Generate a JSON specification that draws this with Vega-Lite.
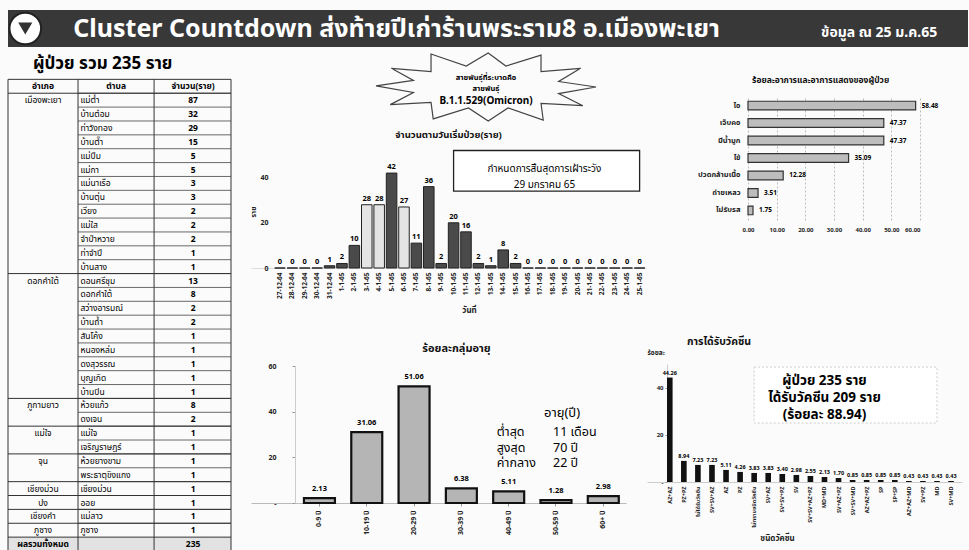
{
  "$schema": "https://vega.github.io/schema/vega-lite/v6.json",
  "background": "#fbfbfb",
  "padding": {"left": 5, "top": 8, "right": 4, "bottom": 0},
  "config": {
    "font": "'Noto Sans', 'Noto Sans Thai', sans-serif",
    "view": {"stroke": null},
    "axis": {"grid": false, "domainColor": "#999", "tickColor": "#999", "labelColor": "#222", "titleColor": "#222"},
    "title": {"color": "#111"}
  },
  "datasets": {
    "table": [
      {"r": 1, "district": "เมืองพะเยา", "sub": "แม่ต๋ำ", "n": 87},
      {"r": 2, "district": "เมืองพะเยา", "sub": "บ้านต๋อม", "n": 32},
      {"r": 3, "district": "เมืองพะเยา", "sub": "ท่าวังทอง", "n": 29},
      {"r": 4, "district": "เมืองพะเยา", "sub": "บ้านต๊ำ", "n": 15},
      {"r": 5, "district": "เมืองพะเยา", "sub": "แม่ปืม", "n": 5},
      {"r": 6, "district": "เมืองพะเยา", "sub": "แม่กา", "n": 5},
      {"r": 7, "district": "เมืองพะเยา", "sub": "แม่นาเรือ", "n": 3},
      {"r": 8, "district": "เมืองพะเยา", "sub": "บ้านตุ่น", "n": 3},
      {"r": 9, "district": "เมืองพะเยา", "sub": "เวียง", "n": 2},
      {"r": 10, "district": "เมืองพะเยา", "sub": "แม่ใส", "n": 2},
      {"r": 11, "district": "เมืองพะเยา", "sub": "จำป่าหวาย", "n": 2},
      {"r": 12, "district": "เมืองพะเยา", "sub": "ท่าจำปี", "n": 1},
      {"r": 13, "district": "เมืองพะเยา", "sub": "บ้านสาง", "n": 1},
      {"r": 14, "district": "ดอกคำใต้", "sub": "ดอนศรีชุม", "n": 13},
      {"r": 15, "district": "ดอกคำใต้", "sub": "ดอกคำใต้", "n": 8},
      {"r": 16, "district": "ดอกคำใต้", "sub": "สว่างอารมณ์", "n": 2},
      {"r": 17, "district": "ดอกคำใต้", "sub": "บ้านถ้ำ", "n": 2},
      {"r": 18, "district": "ดอกคำใต้", "sub": "สันโค้ง", "n": 1},
      {"r": 19, "district": "ดอกคำใต้", "sub": "หนองหล่ม", "n": 1},
      {"r": 20, "district": "ดอกคำใต้", "sub": "ดงสุวรรณ", "n": 1},
      {"r": 21, "district": "ดอกคำใต้", "sub": "บุญเกิด", "n": 1},
      {"r": 22, "district": "ดอกคำใต้", "sub": "บ้านปิน", "n": 1},
      {"r": 23, "district": "ภูกามยาว", "sub": "ห้วยแก้ว", "n": 8},
      {"r": 24, "district": "ภูกามยาว", "sub": "ดงเจน", "n": 2},
      {"r": 25, "district": "แม่ใจ", "sub": "แม่ใจ", "n": 1},
      {"r": 26, "district": "แม่ใจ", "sub": "เจริญราษฎร์", "n": 1},
      {"r": 27, "district": "จุน", "sub": "ห้วยยางขาม", "n": 1},
      {"r": 28, "district": "จุน", "sub": "พระธาตุขิงแกง", "n": 1},
      {"r": 29, "district": "เชียงม่วน", "sub": "เชียงม่วน", "n": 1},
      {"r": 30, "district": "ปง", "sub": "ออย", "n": 1},
      {"r": 31, "district": "เชียงคำ", "sub": "แม่ลาว", "n": 1},
      {"r": 32, "district": "ภูซาง", "sub": "ภูซาง", "n": 1}
    ],
    "onset": [
      {"date": "27-12-64", "cases": 0}, {"date": "28-12-64", "cases": 0}, {"date": "29-12-64", "cases": 0},
      {"date": "30-12-64", "cases": 0}, {"date": "31-12-64", "cases": 1}, {"date": "1-1-65", "cases": 2},
      {"date": "2-1-65", "cases": 10}, {"date": "3-1-65", "cases": 28}, {"date": "4-1-65", "cases": 28},
      {"date": "5-1-65", "cases": 42}, {"date": "6-1-65", "cases": 27}, {"date": "7-1-65", "cases": 11},
      {"date": "8-1-65", "cases": 36}, {"date": "9-1-65", "cases": 2}, {"date": "10-1-65", "cases": 20},
      {"date": "11-1-65", "cases": 16}, {"date": "12-1-65", "cases": 2}, {"date": "13-1-65", "cases": 1},
      {"date": "14-1-65", "cases": 8}, {"date": "15-1-65", "cases": 2}, {"date": "16-1-65", "cases": 0},
      {"date": "17-1-65", "cases": 0}, {"date": "18-1-65", "cases": 0}, {"date": "19-1-65", "cases": 0},
      {"date": "20-1-65", "cases": 0}, {"date": "21-1-65", "cases": 0}, {"date": "22-1-65", "cases": 0},
      {"date": "23-1-65", "cases": 0}, {"date": "24-1-65", "cases": 0}, {"date": "25-1-65", "cases": 0}
    ],
    "symptoms": [
      {"symptom": "ไอ", "pct": 58.48}, {"symptom": "เจ็บคอ", "pct": 47.37}, {"symptom": "มีน้ำมูก", "pct": 47.37},
      {"symptom": "ไข้", "pct": 35.09}, {"symptom": "ปวดกล้ามเนื้อ", "pct": 12.28}, {"symptom": "ถ่ายเหลว", "pct": 3.51},
      {"symptom": "ไม่รับรส", "pct": 1.75}
    ],
    "age": [
      {"group": "0-9 ปี", "pct": 2.13}, {"group": "10-19 ปี", "pct": 31.06}, {"group": "20-29 ปี", "pct": 51.06},
      {"group": "30-39 ปี", "pct": 6.38}, {"group": "40-49 ปี", "pct": 5.11}, {"group": "50-59 ปี", "pct": 1.28},
      {"group": "60+ ปี", "pct": 2.98}
    ],
    "vaccine": [
      {"type": "AZ+AZ", "pct": 44.26}, {"type": "PZ+PZ", "pct": 8.94}, {"type": "ไม่ได้รับวัคซีน", "pct": 7.23},
      {"type": "SV+SV+AZ", "pct": 7.23}, {"type": "AZ", "pct": 5.11}, {"type": "PZ", "pct": 4.26},
      {"type": "ไม่ทราบชนิดวัคซีน", "pct": 3.83}, {"type": "SV+AZ", "pct": 3.83}, {"type": "SV+SV+PZ", "pct": 3.40},
      {"type": "SV", "pct": 2.98}, {"type": "SV+SV+AZ+PZ", "pct": 2.55}, {"type": "MD+MD", "pct": 2.13},
      {"type": "SV+AZ+PZ", "pct": 1.70}, {"type": "SV+SV+MD", "pct": 0.85}, {"type": "AZ+AZ+PZ", "pct": 0.85},
      {"type": "SP", "pct": 0.85}, {"type": "SP+SP", "pct": 0.85}, {"type": "AZ+AZ+MD", "pct": 0.43},
      {"type": "SV+PZ", "pct": 0.43}, {"type": "MD", "pct": 0.43}, {"type": "SV+MD", "pct": 0.43}
    ]
  },
  "align": "none",
  "spacing": 1,
  "vconcat": [
    {
      "width": 960, "height": 37,
      "view": {"fill": "#383838", "stroke": null},
      "data": {"values": [{}]},
      "layer": [
        {"mark": {"type": "point", "shape": "circle", "filled": true, "fill": "white", "size": 1000, "stroke": "#222", "strokeWidth": 2, "opacity": 1},
         "encoding": {"x": {"datum": 0.018, "type": "quantitative", "scale": {"domain": [0, 1]}, "axis": null}}},
        {"mark": {"type": "point", "shape": "triangle-down", "filled": true, "fill": "#333", "size": 200, "opacity": 1},
         "encoding": {"x": {"datum": 0.018, "type": "quantitative", "axis": null}}},
        {"mark": {"type": "text", "align": "left", "baseline": "middle", "fontSize": 25, "fontWeight": "bold", "fill": "white", "text": "Cluster Countdown ส่งท้ายปีเก่าร้านพระราม8 อ.เมืองพะเยา"},
         "encoding": {"x": {"datum": 0.068, "type": "quantitative", "axis": null}}},
        {"mark": {"type": "text", "align": "left", "baseline": "middle", "dy": 4, "fontSize": 14, "fontWeight": "bold", "fill": "white", "text": "ข้อมูล ณ 25 ม.ค.65"},
         "encoding": {"x": {"datum": 0.847, "type": "quantitative", "axis": null}}}
      ]
    },
    {
      "align": "none",
      "spacing": 17,
      "hconcat": [
        {
          "width": 223, "height": 498,
          "data": {"name": "table"},
          "layer": [
            {"data": {"values": [{}]}, "mark": {"type": "text", "text": "ผู้ป่วย รวม 235 ราย", "align": "left", "baseline": "middle", "fontSize": 17, "fontWeight": "bold"},
             "encoding": {"x": {"datum": 0.112, "type": "quantitative", "scale": {"domain": [0, 1], "nice": false}, "axis": null},
                          "y": {"datum": -1.1, "type": "quantitative", "scale": {"domain": [-1.9, 34], "reverse": true, "nice": false, "zero": false}, "axis": null}}},
            {"data": {"values": [{}]}, "mark": {"type": "rect", "fill": "#e2e2e2"},
             "encoding": {"x": {"datum": 0, "type": "quantitative", "axis": null}, "x2": {"datum": 1},
                          "y": {"datum": 33, "type": "quantitative", "axis": null}, "y2": {"datum": 34}}},
            {"data": {"values": [{}]}, "mark": {"type": "rect", "fill": null, "stroke": "#333", "strokeWidth": 1},
             "encoding": {"x": {"datum": 0, "type": "quantitative", "axis": null}, "x2": {"datum": 1},
                          "y": {"datum": 0, "type": "quantitative", "axis": null}, "y2": {"datum": 34}}},
            {"data": {"values": [{}]}, "mark": {"type": "rule", "stroke": "#333", "strokeWidth": 1},
             "encoding": {"x": {"datum": 0.314, "type": "quantitative", "axis": null},
                          "y": {"datum": 0, "type": "quantitative", "axis": null}, "y2": {"datum": 34}}},
            {"data": {"values": [{}]}, "mark": {"type": "rule", "stroke": "#333", "strokeWidth": 1},
             "encoding": {"x": {"datum": 0.655, "type": "quantitative", "axis": null},
                          "y": {"datum": 0, "type": "quantitative", "axis": null}, "y2": {"datum": 34}}},
            {"data": {"values": [{}]}, "mark": {"type": "rule", "stroke": "#333", "strokeWidth": 1},
             "encoding": {"x": {"datum": 0, "type": "quantitative", "axis": null}, "x2": {"datum": 1},
                          "y": {"datum": 33, "type": "quantitative", "axis": null}}},
            {"mark": {"type": "rule", "stroke": "#444", "strokeWidth": 0.8},
             "encoding": {"x": {"datum": 0.314, "type": "quantitative", "axis": null}, "x2": {"datum": 1},
                          "y": {"field": "r", "type": "quantitative", "axis": null}}},
            {"transform": [{"aggregate": [{"op": "min", "field": "r", "as": "start"}], "groupby": ["district"]}],
             "mark": {"type": "rule", "stroke": "#333", "strokeWidth": 1},
             "encoding": {"x": {"datum": 0, "type": "quantitative", "axis": null}, "x2": {"datum": 1},
                          "y": {"field": "start", "type": "quantitative", "axis": null}}},
            {"transform": [{"aggregate": [{"op": "min", "field": "r", "as": "start"}], "groupby": ["district"]}],
             "mark": {"type": "text", "baseline": "middle", "dy": 7, "fontSize": 8.5, "align": "center"},
             "encoding": {"x": {"datum": 0.157, "type": "quantitative", "axis": null},
                          "y": {"field": "start", "type": "quantitative", "axis": null}, "text": {"field": "district"}}},
            {"mark": {"type": "text", "baseline": "middle", "dy": 7, "fontSize": 8.5, "align": "left"},
             "encoding": {"x": {"datum": 0.325, "type": "quantitative", "axis": null},
                          "y": {"field": "r", "type": "quantitative", "axis": null}, "text": {"field": "sub"}}},
            {"mark": {"type": "text", "baseline": "middle", "dy": 7, "fontSize": 8.5, "fontWeight": "bold", "align": "center"},
             "encoding": {"x": {"datum": 0.83, "type": "quantitative", "axis": null},
                          "y": {"field": "r", "type": "quantitative", "axis": null}, "text": {"field": "n"}}},
            {"data": {"values": [{}]}, "mark": {"type": "text", "baseline": "middle", "dy": 7, "fontSize": 8.5, "fontWeight": "bold", "text": "อำเภอ"},
             "encoding": {"x": {"datum": 0.157, "type": "quantitative", "axis": null}, "y": {"datum": 0, "type": "quantitative", "axis": null}}},
            {"data": {"values": [{}]}, "mark": {"type": "text", "baseline": "middle", "dy": 7, "fontSize": 8.5, "fontWeight": "bold", "text": "ตำบล"},
             "encoding": {"x": {"datum": 0.485, "type": "quantitative", "axis": null}, "y": {"datum": 0, "type": "quantitative", "axis": null}}},
            {"data": {"values": [{}]}, "mark": {"type": "text", "baseline": "middle", "dy": 7, "fontSize": 8.5, "fontWeight": "bold", "text": "จำนวน(ราย)"},
             "encoding": {"x": {"datum": 0.83, "type": "quantitative", "axis": null}, "y": {"datum": 0, "type": "quantitative", "axis": null}}},
            {"data": {"values": [{}]}, "mark": {"type": "text", "baseline": "middle", "dy": 7, "fontSize": 8.5, "fontWeight": "bold", "text": "ผลรวมทั้งหมด"},
             "encoding": {"x": {"datum": 0.157, "type": "quantitative", "axis": null}, "y": {"datum": 33, "type": "quantitative", "axis": null}}},
            {"data": {"values": [{}]}, "mark": {"type": "text", "baseline": "middle", "dy": 7, "fontSize": 8.5, "fontWeight": "bold", "text": "235"},
             "encoding": {"x": {"datum": 0.83, "type": "quantitative", "axis": null}, "y": {"datum": 33, "type": "quantitative", "axis": null}}}
          ]
        },
        {
          "align": "none",
          "spacing": 0,
          "hconcat": [
            {
              "align": "none",
              "spacing": 28,
              "vconcat": [
                {
                  "align": "none",
                  "spacing": 6,
                  "vconcat": [
                    {
                      "width": 395, "height": 68,
                      "data": {"values": [{}]},
                      "layer": [
                        {"mark": {"type": "point", "shape": "M1,0L0.66,0.06L0.88,0.17L0.5,0.15L0.52,0.3L0.2,0.19L0.02,0.31L-0.16,0.19L-0.48,0.29L-0.5,0.14L-0.87,0.16L-0.66,0.05L-1,-0.01L-0.66,-0.06L-0.86,-0.17L-0.5,-0.14L-0.5,-0.3L-0.18,-0.19L0.02,-0.31L0.18,-0.19L0.5,-0.29L0.5,-0.14L0.86,-0.17L0.66,-0.05Z", "size": 48400, "filled": false, "stroke": "#444", "strokeWidth": 1.2, "opacity": 1},
                         "encoding": {"x": {"datum": 0.595, "type": "quantitative", "scale": {"domain": [0, 1]}, "axis": null},
                                      "y": {"datum": 0.5, "type": "quantitative", "scale": {"domain": [0, 1]}, "axis": null}}},
                        {"mark": {"type": "text", "text": ["สายพันธุ์ที่ระบาดคือ", "สายพันธุ์"], "fontSize": 7.5, "fontWeight": "bold", "lineHeight": 11, "baseline": "middle"},
                         "encoding": {"x": {"datum": 0.595, "type": "quantitative", "axis": null}, "y": {"datum": 0.63, "type": "quantitative", "axis": null}}},
                        {"mark": {"type": "text", "text": "B.1.1.529(Omicron)", "fontSize": 10, "fontWeight": "bold", "baseline": "middle"},
                         "encoding": {"x": {"datum": 0.595, "type": "quantitative", "axis": null}, "y": {"datum": 0.29, "type": "quantitative", "axis": null}}}
                      ]
                    },
                    {
                      "width": 395, "height": 113,
                      "title": {"text": "จำนวนตามวันเริ่มป่วย(ราย)", "fontSize": 9.5, "fontWeight": "bold", "offset": 10},
                      "data": {"name": "onset"},
                      "layer": [
                        {"mark": {"type": "bar", "stroke": "#222", "strokeWidth": 1},
                         "encoding": {
                           "x": {"field": "date", "type": "ordinal", "sort": null, "scale": {"paddingInner": 0.15, "paddingOuter": 1.67, "align": 0.955},
                                 "axis": {"title": "วันที่", "labelAngle": -90, "labelFontSize": 6.5, "labelFontWeight": "bold", "ticks": false, "domainColor": "#ddd", "labelPadding": 4, "titleFontSize": 8, "titleFontWeight": "bold", "titlePadding": 8, "titleX": 218}},
                           "y": {"field": "cases", "type": "quantitative", "scale": {"domain": [0, 50]},
                                 "axis": {"title": "ราย", "offset": -25, "values": [0, 10, 20, 30, 40, 50], "domain": false, "ticks": false, "labelFontSize": 7, "labelFontWeight": "bold", "labelPadding": 8, "titleFontSize": 7, "titleFontWeight": "bold", "titlePadding": 3}},
                           "fill": {"condition": {"test": "indexof(['3-1-65','4-1-65','6-1-65'], datum.date) >= 0", "value": "#e4e4e4"}, "value": "#4a4a4a"}
                         }},
                        {"mark": {"type": "text", "dy": -6, "fontSize": 7.5, "fontWeight": "bold"},
                         "encoding": {"x": {"field": "date", "type": "ordinal", "sort": null}, "y": {"field": "cases", "type": "quantitative"}, "text": {"field": "cases"}}},
                        {"data": {"values": [{}]}, "mark": {"type": "rect", "fill": "white", "stroke": "#222", "strokeWidth": 1.3},
                         "encoding": {"x": {"datum": "10-1-65", "type": "ordinal"}, "x2": {"datum": "25-1-65"},
                                      "y": {"datum": 52, "type": "quantitative"}, "y2": {"datum": 34}}},
                        {"data": {"values": [{}]}, "mark": {"type": "text", "text": ["กำหนดการสิ้นสุดการเฝ้าระวัง", "29 มกราคม 65"], "fontSize": 10, "lineHeight": 16, "baseline": "top", "dx": 4},
                         "encoding": {"x": {"datum": "17-1-65", "type": "ordinal"}, "y": {"datum": 46, "type": "quantitative"}}}
                      ]
                    }
                  ]
                },
                {
                  "width": 375, "height": 137,
                  "title": {"text": "ร้อยละกลุ่มอายุ", "fontSize": 11, "fontWeight": "bold", "offset": 8, "dx": 18},
                  "data": {"name": "age"},
                  "layer": [
                    {"mark": {"type": "bar", "fill": "#b5b5b5", "stroke": "#111", "strokeWidth": 2.2},
                     "encoding": {
                       "x": {"field": "group", "type": "ordinal", "sort": null, "scale": {"paddingInner": 0.345, "paddingOuter": 0.636, "align": 0.88},
                             "axis": {"title": null, "labelAngle": -90, "labelFontSize": 7, "labelFontWeight": "bold", "tickSize": 3, "domainColor": "#bbb", "labelPadding": 4}},
                       "y": {"field": "pct", "type": "quantitative", "scale": {"domain": [0, 60]},
                             "axis": {"title": null, "offset": -44, "values": [0, 10, 20, 30, 40, 50, 60], "labelExpr": "datum.value == 0 ? '-' : datum.label", "domainColor": "#ccc", "tickSize": 3, "labelPadding": 16, "labelFontSize": 7, "labelFontWeight": "bold"}}
                     }},
                    {"mark": {"type": "text", "dy": -9, "fontSize": 7.5, "fontWeight": "bold"},
                     "encoding": {"x": {"field": "group", "type": "ordinal", "sort": null}, "y": {"field": "pct", "type": "quantitative"}, "text": {"field": "pct", "format": ".2f"}}},
                    {"data": {"values": [{}]}, "mark": {"type": "text", "text": "อายุ(ปี)", "fontSize": 13, "baseline": "middle", "dx": 6},
                     "encoding": {"x": {"datum": "50-59 ปี", "type": "ordinal"}, "y": {"datum": 39.4, "type": "quantitative"}}},
                    {"data": {"values": [{}]}, "mark": {"type": "text", "text": ["ต่ำสุด", "สูงสุด", "ค่ากลาง"], "fontSize": 12.5, "lineHeight": 15.5, "baseline": "top", "align": "left", "dx": -12},
                     "encoding": {"x": {"datum": "40-49 ปี", "type": "ordinal"}, "y": {"datum": 33.7, "type": "quantitative"}}},
                    {"data": {"values": [{}]}, "mark": {"type": "text", "text": ["11 เดือน", "70 ปี", "22 ปี"], "fontSize": 12.5, "lineHeight": 15.5, "baseline": "top", "align": "left", "dx": -3},
                     "encoding": {"x": {"datum": "50-59 ปี", "type": "ordinal"}, "y": {"datum": 33.7, "type": "quantitative"}}}
                  ]
                }
              ]
            },
            {
              "align": "none",
              "spacing": 104,
              "vconcat": [
                {
                  "align": "none",
                  "spacing": 0,
                  "vconcat": [
                    {"width": 10, "height": 22, "data": {"values": [{}]}, "mark": {"type": "rule", "opacity": 0}, "encoding": {}},
                    {
                      "width": 273, "height": 124,
                      "title": {"text": "ร้อยละอาการและอาการแสดงของผู้ป่วย", "fontSize": 8.5, "fontWeight": "bold", "anchor": "start", "offset": 12, "dx": 105},
                      "data": {"name": "symptoms"},
                      "layer": [
                        {"mark": {"type": "bar", "fill": "#bdbdbd", "stroke": "#333", "strokeWidth": 1.2},
                         "encoding": {
                           "y": {"field": "symptom", "type": "nominal", "sort": null, "scale": {"paddingInner": 0.5, "paddingOuter": 0.3},
                                 "axis": {"title": null, "offset": -101, "ticks": false, "domain": false, "labelFontSize": 7.5, "labelFontWeight": "bold", "labelPadding": 8}},
                           "x": {"field": "pct", "type": "quantitative", "scale": {"domain": [-35.23, 60], "nice": false, "zero": false},
                                 "axis": {"title": null, "values": [0, 10, 20, 30, 40, 50, 60], "format": ".2f", "grid": true, "gridDash": [2, 2], "gridColor": "#bbb", "domain": false, "ticks": false, "labelFontSize": 6, "labelFontWeight": "bold", "labelPadding": 6}}
                         }},
                        {"mark": {"type": "text", "align": "left", "dx": 6, "fontSize": 6.5, "fontWeight": "bold"},
                         "encoding": {"y": {"field": "symptom", "type": "nominal", "sort": null}, "x": {"field": "pct", "type": "quantitative"}, "text": {"field": "pct", "format": ".2f"}}}
                      ]
                    }
                  ]
                },
                {
                  "width": 315, "height": 118,
                  "title": {"text": "การได้รับวัคซีน", "fontSize": 10.5, "fontWeight": "bold", "anchor": "start", "offset": 2, "dx": 40},
                  "data": {"name": "vaccine"},
                  "layer": [
                    {"mark": {"type": "bar", "fill": "#111"},
                     "encoding": {
                       "x": {"field": "type", "type": "ordinal", "sort": null, "scale": {"paddingInner": 0.6, "paddingOuter": 1.38, "align": 0.71},
                             "axis": {"title": "ชนิดวัคซีน", "titleY": 52, "titleX": 130, "titleFontSize": 8, "titleFontWeight": "bold", "labelAngle": -90, "labelFontSize": 5.5, "labelFontWeight": "bold", "ticks": false, "domainColor": "#ccc", "labelPadding": 4}},
                       "y": {"field": "pct", "type": "quantitative", "scale": {"domain": [0, 50]},
                             "axis": {"title": "ร้อยละ", "offset": -20, "titleAngle": 0, "titleAlign": "left", "titleX": -20, "titleY": -9, "titleFontSize": 6.5, "titleFontWeight": "bold", "values": [0, 5, 10, 15, 20, 25, 30, 35, 40, 45, 50], "labelExpr": "datum.value == 0 ? '-' : datum.label", "domainColor": "#ccc", "tickSize": 2, "labelFontSize": 6, "labelFontWeight": "bold"}}
                     }},
                    {"mark": {"type": "text", "dy": -5, "fontSize": 5.5, "fontWeight": "bold"},
                     "encoding": {"x": {"field": "type", "type": "ordinal", "sort": null}, "y": {"field": "pct", "type": "quantitative"}, "text": {"field": "pct", "format": ".2f"}}},
                    {"data": {"values": [{}]}, "mark": {"type": "rect", "fill": "white", "stroke": "#ccc", "strokeDash": [2, 2], "strokeWidth": 1},
                     "encoding": {"x": {"datum": "ไม่ทราบชนิดวัคซีน", "type": "ordinal"}, "x2": {"datum": "MD"},
                                  "y": {"datum": 48.7, "type": "quantitative"}, "y2": {"datum": 25}}},
                    {"data": {"values": [{}]}, "mark": {"type": "text", "text": ["ผู้ป่วย 235 ราย", "ได้รับวัคซีน 209 ราย", "(ร้อยละ 88.94)"], "fontSize": 13.5, "fontWeight": "bold", "lineHeight": 17, "baseline": "top"},
                     "encoding": {"x": {"datum": "MD+MD", "type": "ordinal"}, "y": {"datum": 45.8, "type": "quantitative"}}}
                  ]
                }
              ]
            }
          ]
        }
      ]
    }
  ]
}
